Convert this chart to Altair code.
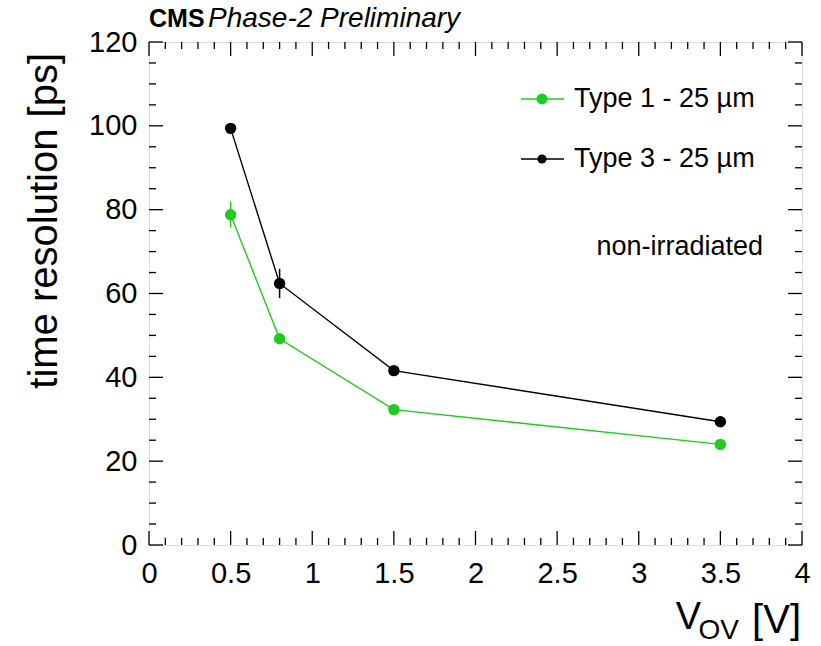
import altair as alt
import pandas as pd

# ---- data ----
vov = [0.5, 0.8, 1.5, 3.5]
type1 = [78.8, 49.2, 32.3, 24.0]
type1_err = [3.1, 1.0, 0.8, 0.6]
type3 = [99.4, 62.4, 41.6, 29.4]
type3_err = [1.0, 3.5, 1.0, 0.8]
series_names = ["Type 1 - 25 µm", "Type 3 - 25 µm"]
series_colors = ["#1ecb1e", "#000000"]

x_major = [0, 0.5, 1, 1.5, 2, 2.5, 3, 3.5, 4]
x_minor = [round(i * 0.1, 1) for i in range(41) if i % 5 != 0]
y_major = [0, 20, 40, 60, 80, 100, 120]
y_minor = [i * 5 for i in range(25) if i % 4 != 0]

W, H = 653, 503
FONT = "Liberation Sans"

rows = []
for n, ys, es in [(series_names[0], type1, type1_err), (series_names[1], type3, type3_err)]:
    for x, y, e in zip(vov, ys, es):
        rows.append({"series": n, "vov": x, "res": y, "lo": y - e, "hi": y + e})
df = pd.DataFrame(rows)

xs = alt.Scale(domain=[0, 4], nice=False, zero=False)
ys_ = alt.Scale(domain=[0, 120], nice=False, zero=False)
col = alt.Color("series:N", scale=alt.Scale(domain=series_names, range=series_colors), legend=None)

base = alt.Chart(df)

lines = base.mark_line(strokeWidth=1.4).encode(
    x=alt.X("vov:Q", scale=xs,
            axis=alt.Axis(values=x_major, ticks=False, domain=False, grid=False, title=None,
                          labelFont=FONT, labelFontSize=29, labelColor="black", labelPadding=14,
                          labelExpr="datum.value == 0 ? '0' : format(datum.value, '~g')",
                          labelFlush=False)),
    y=alt.Y("res:Q", scale=ys_,
            axis=alt.Axis(values=y_major, ticks=False, domain=False, grid=False, title=None,
                          labelFont=FONT, labelFontSize=29, labelColor="black", labelPadding=12,
                          labelFlush=False)),
    color=col,
    order=alt.Order("vov:Q"),
)
errs = base.mark_rule(strokeWidth=1.5).encode(
    x=alt.X("vov:Q", scale=xs), y=alt.Y("lo:Q", scale=ys_), y2="hi:Q", color=col)
pts = base.mark_circle(size=130, opacity=1).encode(
    x=alt.X("vov:Q", scale=xs), y=alt.Y("res:Q", scale=ys_), color=col)

def tick_layer(vals, field, length, side):
    d = alt.Chart(pd.DataFrame({field: vals})).mark_rule(color="black", strokeWidth=1.3)
    if side == "bottom":
        return d.encode(x=alt.X(f"{field}:Q", scale=xs), y=alt.value(H), y2=alt.value(H - length))
    if side == "top":
        return d.encode(x=alt.X(f"{field}:Q", scale=xs), y=alt.value(0), y2=alt.value(length))
    if side == "left":
        return d.encode(y=alt.Y(f"{field}:Q", scale=ys_), x=alt.value(0), x2=alt.value(length))
    return d.encode(y=alt.Y(f"{field}:Q", scale=ys_), x=alt.value(W), x2=alt.value(W - length))

ticks = [
    tick_layer(x_major, "t", 14, "bottom"), tick_layer(x_minor, "t", 7, "bottom"),
    tick_layer(x_major, "t", 14, "top"), tick_layer(x_minor, "t", 7, "top"),
    tick_layer(y_major, "t", 14, "left"), tick_layer(y_minor, "t", 7, "left"),
    tick_layer(y_major, "t", 14, "right"), tick_layer(y_minor, "t", 7, "right"),
]

one = pd.DataFrame({"a": [0]})

def txt(text, x, y, size, align="left", baseline="alphabetic", weight="normal", style="normal", angle=0):
    kw = dict(text=text, font=FONT, fontSize=size, align=align, baseline=baseline,
              fontWeight=weight, fontStyle=style, color="black")
    if angle:
        kw["angle"] = angle
    return alt.Chart(one).mark_text(**kw).encode(x=alt.value(x), y=alt.value(y))

# legend entries
leg = []
for i, (name, c) in enumerate(zip(series_names, series_colors)):
    yy = 57 + 60 * i
    leg.append(alt.Chart(one).mark_rule(color=c, strokeWidth=1.4).encode(
        x=alt.value(372), x2=alt.value(415), y=alt.value(yy)))
    leg.append(alt.Chart(one).mark_circle(size=120 if i == 0 else 85, color=c, opacity=1).encode(
        x=alt.value(393), y=alt.value(yy)))
    leg.append(txt(name, 425, yy, 27, baseline="middle"))

texts = [
    txt("non-irradiated", 614, 205, 27, align="right", baseline="middle"),
    txt("CMS", 0, -15, 25, weight="bold"),
    txt("Phase-2 Preliminary", 59, -15, 28, style="italic"),
    txt("time resolution [ps]", -92, 11, 40, align="right", angle=270),
    txt("[V]", 652, 591, 40, align="right"),
    txt("OV", 590, 597, 28, align="right"),
    txt("V", 552, 587, 38, align="right"),
]

chart = alt.layer(lines, errs, pts, *ticks, *leg, *texts).properties(
    width=W, height=H,
    padding={"left": 149, "top": 42, "right": 19, "bottom": 101},
    autosize=alt.AutoSizeParams(type="none"),
).configure_view(stroke="black", strokeWidth=2.5).configure(background="white")

chart.save("out.html", embed_options={"renderer": "svg", "actions": False})
